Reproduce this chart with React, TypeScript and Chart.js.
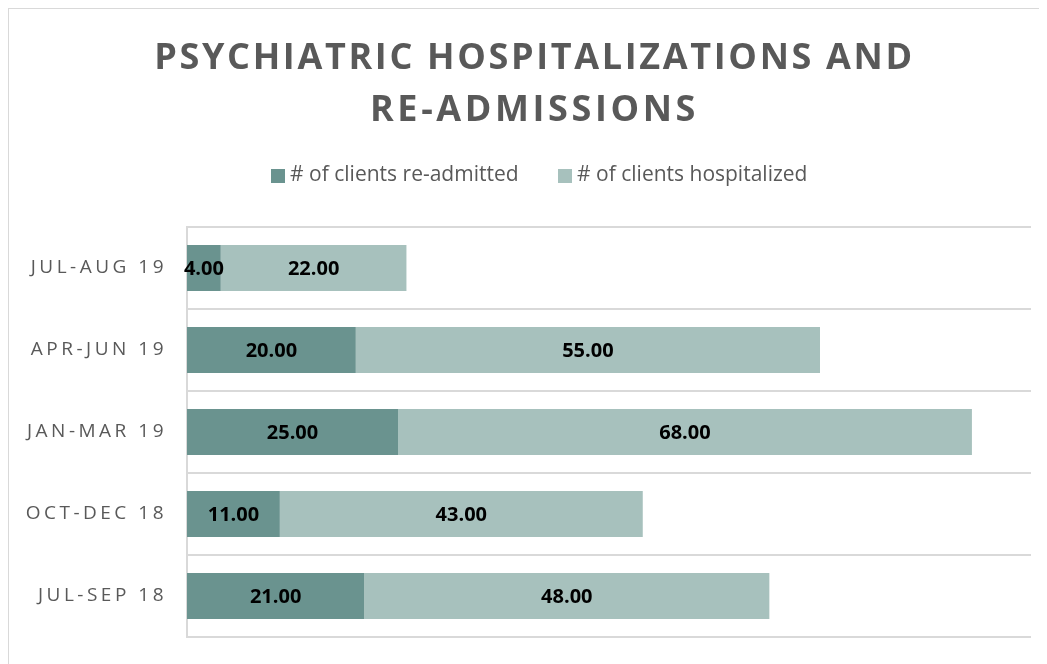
import React, { useEffect, useRef } from 'react';
import { Chart, CategoryScale, registerables } from 'chart.js';

Chart.register(...registerables);

// ---- data ----
const categories = ['JUL-AUG 19', 'APR-JUN 19', 'JAN-MAR 19', 'OCT-DEC 18', 'JUL-SEP 18'];
const readmitted = [4, 20, 25, 11, 21];
const hospitalized = [22, 55, 68, 43, 48];
const seriesNames = ['# of clients re-admitted', '# of clients hospitalized'];
const titleLines = ['PSYCHIATRIC HOSPITALIZATIONS AND', 'RE-ADMISSIONS'];
const xMin = 0;
const xMax = 100;

const DARK = '#6a938f';
const LIGHT = '#a7c1bd';
const GRID = '#d9d9d9';
const TEXT = '#595959';

class SpacedCategoryScale extends (CategoryScale as any) {
  static id = 'spacedCategory';
  static defaults = {};
  _computeLabelArea() {
    return undefined;
  }
  drawLabels(chartArea: any) {
    const ctx = (this as any).ctx;
    const prev = ctx.letterSpacing;
    ctx.letterSpacing = '3.5px';
    super.drawLabels(chartArea);
    ctx.letterSpacing = prev;
  }
}
Chart.register(SpacedCategoryScale as any);

const titleSpacing = ['2.65px', '3.6px'];

const titlePlugin = {
  id: 'spacedTitle',
  afterDraw(chart: any) {
    const ctx = chart.ctx;
    ctx.save();
    ctx.font = 'bold 36px "Open Sans"';
    ctx.fillStyle = TEXT;
    ctx.textAlign = 'center';
    ctx.textBaseline = 'alphabetic';
    titleLines.forEach((t, i) => {
      ctx.letterSpacing = titleSpacing[i];
      ctx.fillText(t, 525.5, 60 + i * 52);
    });
    ctx.restore();
  },
};

const barLabelPlugin = {
  id: 'barLabels',
  afterDatasetsDraw(chart: any) {
    const ctx = chart.ctx;
    ctx.save();
    ctx.font = 'bold 20px "Open Sans"';
    ctx.fillStyle = '#000000';
    ctx.textAlign = 'center';
    ctx.textBaseline = 'middle';
    chart.data.datasets.forEach((ds: any, i: number) => {
      const meta = chart.getDatasetMeta(i);
      meta.data.forEach((bar: any, j: number) => {
        const p = bar.getProps(['x', 'base', 'y'], true);
        ctx.fillText(Number(ds.data[j]).toFixed(2), (p.x + p.base) / 2, p.y + 1);
      });
    });
    ctx.restore();
  },
};

function makeSwatch(color: string) {
  const c = document.createElement('canvas');
  c.width = 14;
  c.height = 14;
  const g = c.getContext('2d');
  if (g) {
    g.fillStyle = color;
    g.fillRect(0, 0, 14, 14);
  }
  return c;
}

export default function App() {
  const ref = useRef<HTMLCanvasElement | null>(null);

  useEffect(() => {
    document.body.style.overflow = 'hidden';
    const canvas = ref.current;
    if (!canvas) return;
    const swatches = [makeSwatch(DARK), makeSwatch(LIGHT)];
    const chart = new Chart(canvas, {
      type: 'bar',
      data: {
        labels: categories,
        datasets: [
          {
            label: seriesNames[0],
            data: readmitted,
            backgroundColor: DARK,
            borderWidth: 0,
            categoryPercentage: 1,
            barPercentage: 0.56,
          },
          {
            label: seriesNames[1],
            data: hospitalized,
            backgroundColor: LIGHT,
            borderWidth: 0,
            categoryPercentage: 1,
            barPercentage: 0.56,
          },
        ],
      },
      options: {
        indexAxis: 'y',
        responsive: false,
        animation: false,
        events: [],
        layout: { padding: { top: 111, left: 44, right: 38, bottom: 32 } },
        plugins: {
          title: { display: false },
          tooltip: { enabled: false },
          legend: {
            display: true,
            position: 'top',
            labels: {
              usePointStyle: true,
              pointStyleWidth: 3,
              boxHeight: 14,
              padding: 45,
              color: TEXT,
              font: { family: '"Open Sans"', size: 21 },
              generateLabels: (c: any) => {
                const items = (Chart.defaults as any).plugins.legend.labels.generateLabels(c);
                return items.map((it: any, i: number) => ({ ...it, pointStyle: swatches[i % swatches.length] }));
              },
            },
          },
        },
        scales: {
          x: {
            type: 'linear',
            position: 'top',
            stacked: true,
            min: xMin,
            max: xMax,
            grid: { display: false },
            border: { display: false },
            ticks: { display: false },
            afterFit: (s: any) => {
              s.height = 31;
            },
          },
          y: {
            type: 'spacedCategory' as any,
            stacked: true,
            offset: true,
            grid: { display: true, offset: true, color: GRID, lineWidth: 2, drawTicks: false },
            border: { display: true, color: GRID, width: 2 },
            ticks: {
              color: TEXT,
              padding: 20,
              font: { family: '"Open Sans"', size: 19 },
            },
            afterFit: (s: any) => {
              s.width = 134;
            },
          },
        },
      } as any,
      plugins: [titlePlugin, barLabelPlugin],
    });
    return () => chart.destroy();
  }, []);

  return (
    <div
      style={{
        width: 1100,
        height: 700,
        border: '1px solid #d9d9d9',
        overflow: 'hidden',
        background: '#ffffff',
      }}
    >
      <canvas ref={ref} width={1060} height={660} style={{ display: 'block' }} />
    </div>
  );
}
